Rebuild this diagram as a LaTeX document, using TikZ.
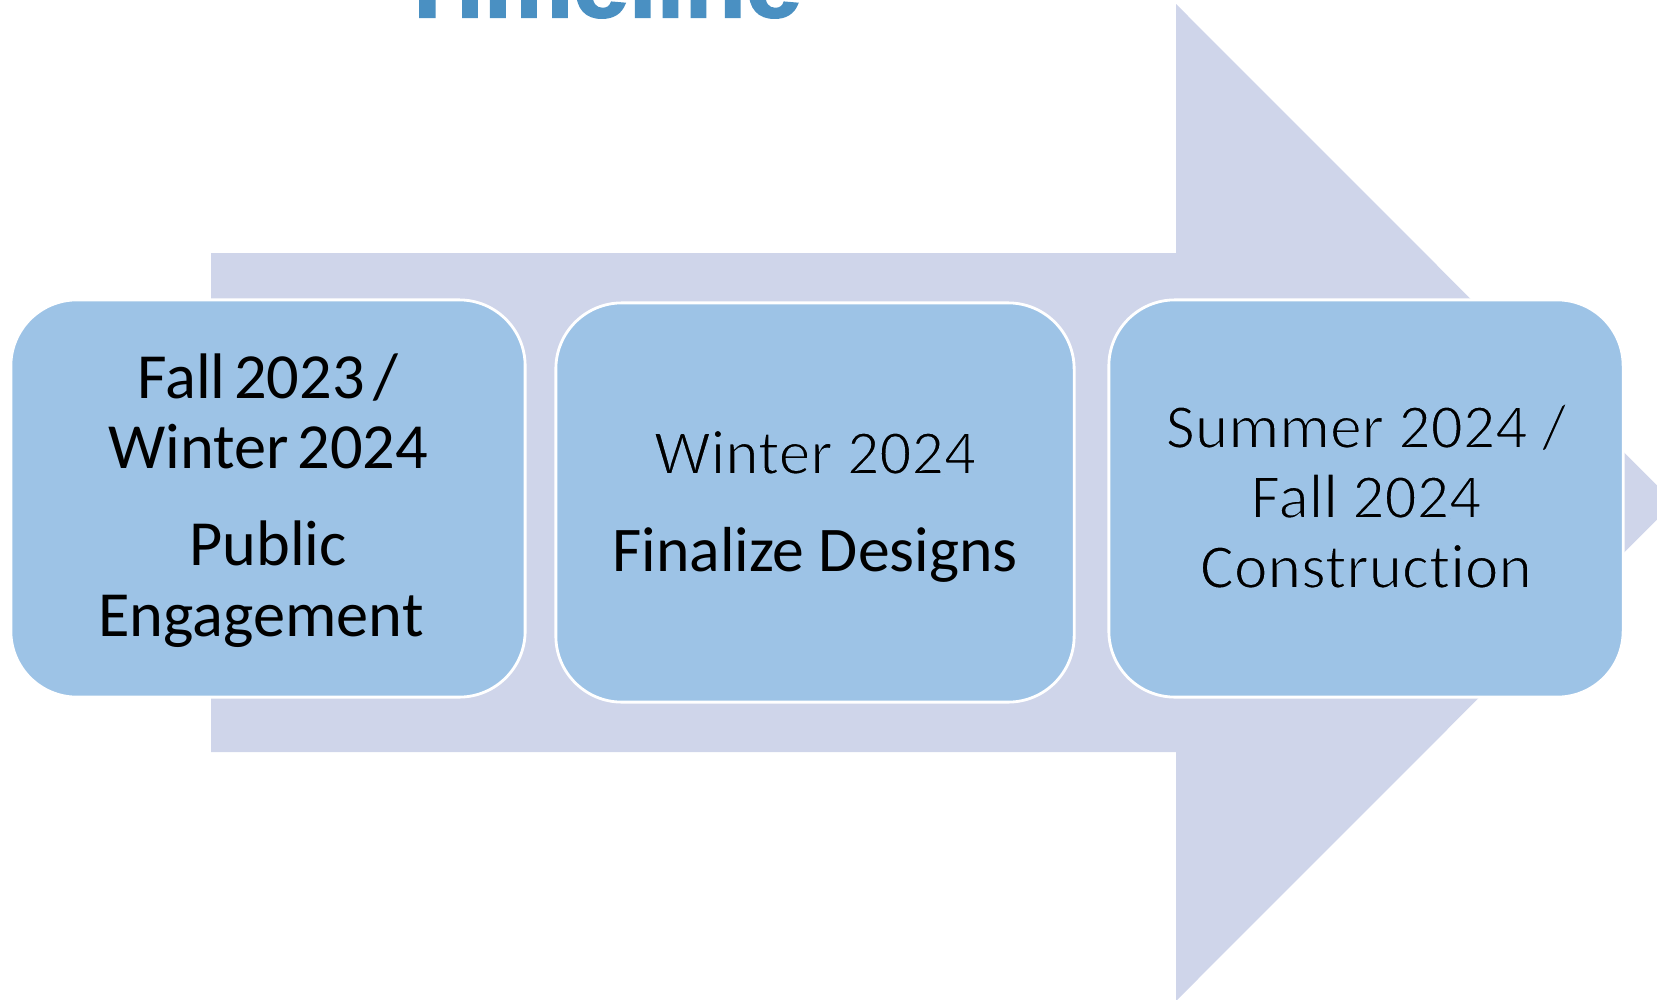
\documentclass[tikz,border=0pt]{standalone}
\usepackage{fontspec}
\setmainfont{Carlito}[Ligatures={NoCommon}]
\newfontfamily\titlefont{Liberation Sans}[BoldFeatures={FakeBold=2}]
\definecolor{arrowc}{HTML}{CFD5EA}
\definecolor{boxc}{HTML}{9DC3E6}
\definecolor{titlec}{HTML}{4A90C2}
\newcommand\lighttext[1]{\special{pdf:literal direct 2 Tr 0.45 w 0.616 0.765 0.902 RG}#1\special{pdf:literal direct 0 Tr}}
\newcommand\tightspaces{\spaceskip=0.6\fontdimen2\font plus 0.1\fontdimen3\font}
\tikzset{
  stagebox/.style={draw=white, line width=0.8pt, fill=boxc, rounded corners=0.66cm,
    minimum width=5.14cm, minimum height=3.97cm, inner sep=0pt},
  boxtext/.style={anchor=base, inner sep=0pt, text=black},
  fontA/.style={font=\fontsize{18.3}{20}\selectfont\tightspaces},
  fontB/.style={font=\fontsize{18.1}{20}\selectfont},
}
\begin{document}
\begin{tikzpicture}[x=0.01cm, y=-0.01cm]
\useasboundingbox (0,0) rectangle (1657,1000);
\clip (0,0) rectangle (1657,1000);
% big arrow
\fill[arrowc] (211,253) -- (1176,253) -- (1176,4) -- (1674,502.5) -- (1176,1001)
  -- (1176,752) -- (211,752) -- cycle;
% title (cut off at top, as in the reference)
\node[anchor=base west, inner sep=0pt, text=titlec, font=\titlefont\bfseries\fontsize{28.5}{30}\selectfont]
  (title) at (396,17) {Timeline};
% boxes
\node[stagebox] (b1) at (268,498.5) {};
\node[stagebox, minimum width=5.18cm, minimum height=3.99cm] (b2) at (815,502.5) {};
\node[stagebox] (b3) at (1366,498.5) {};
% texts box 1
\node[boxtext, fontA] (t1a) at (268,398) {Fall 2023 /};
\node[boxtext, fontA] (t1b) at (268,468) {Winter 2024};
\node[boxtext, fontA] (t1c) at (268,565) {Public};
\node[boxtext, fontA] (t1d) at (261,636) {Engagement};
% box 2
\node[boxtext, fontB] (t2a) at (815,474) {\lighttext{Winter 2024}};
\node[boxtext, fontB] (t2b) at (815,571) {Finalize Designs};
% box 3
\node[boxtext, fontB] (t3a) at (1366,448) {\lighttext{Summer 2024 /}};
\node[boxtext, fontB] (t3b) at (1366,518) {\lighttext{Fall 2024}};
\node[boxtext, fontB] (t3c) at (1366,588) {\lighttext{Construction}};
\end{tikzpicture}
\end{document}
